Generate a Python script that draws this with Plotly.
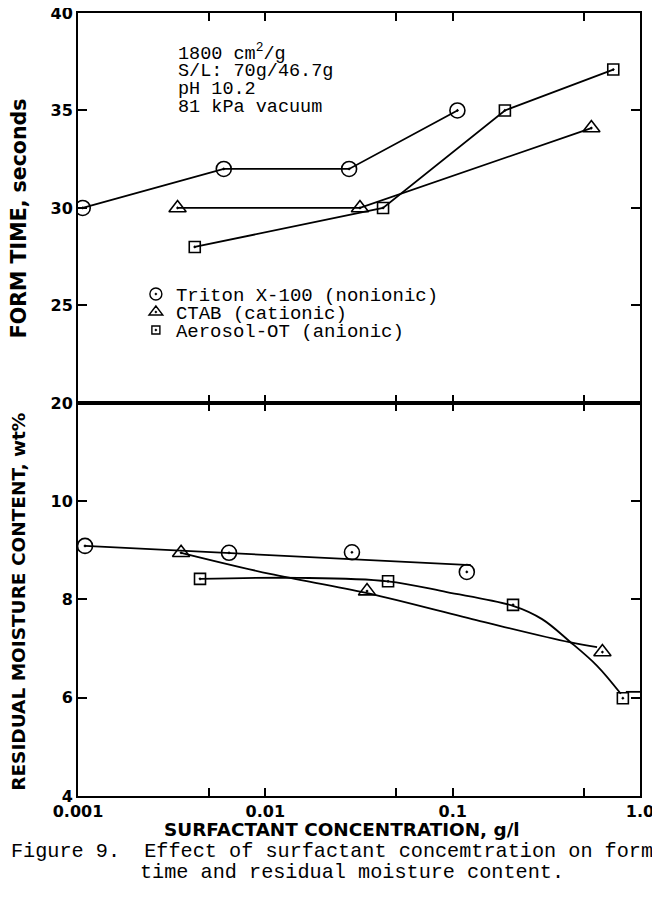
import plotly.graph_objects as go

# ---------------- data ----------------
# Top panel: form time, seconds
triton_x = [0.00106, 0.0060, 0.028, 0.106]
triton_form = [30.0, 32.0, 32.0, 35.0]
ctab_x = [0.0034, 0.032, 0.55]
ctab_form = [30.0, 30.0, 34.1]
aot_x = [0.0042, 0.0425, 0.19, 0.72]
aot_form = [28.0, 30.0, 35.0, 37.1]

# Bottom panel: residual moisture content, wt%
triton_mx = [0.00109, 0.0064, 0.029, 0.119]
triton_moist = [9.09, 8.95, 8.96, 8.56]
ctab_mx = [0.00355, 0.0349, 0.63]
ctab_moist = [8.95, 8.17, 6.93]
aot_mx = [0.00448, 0.0452, 0.21, 0.81]
aot_moist = [8.42, 8.37, 7.89, 5.99]

# Hand-drawn fitted curves in the bottom panel
triton_fit_x = [0.00109, 0.125]
triton_fit_y = [9.09, 8.70]
ctab_fit_x = [0.00355, 0.0106, 0.035, 0.14, 0.42, 0.59]
ctab_fit_y = [8.95, 8.52, 8.13, 7.56, 7.13, 7.03]
aot_fit_x = [0.00448, 0.015, 0.045, 0.093, 0.21, 0.30, 0.42, 0.59, 0.79]
aot_fit_y = [8.42, 8.44, 8.37, 8.15, 7.87, 7.60, 7.15, 6.65, 6.08]
aot_tail_x = [0.84, 1.0]
aot_tail_y = [6.12, 6.12]

legend_names = ["Triton X-100 (nonionic)", "CTAB (cationic)", "Aerosol-OT (anionic)"]
x_tickvals = [0.001, 0.005, 0.01, 0.05, 0.1, 0.5, 1.0]
x_ticktext = ["0.001", " ", "0.01", " ", "0.1", " ", "1.0"]
top_ticks = [20, 25, 30, 35, 40]
bot_ticks = [4, 6, 8, 10]
conditions = ["1800 cm<sup>2</sup>/g", "S/L: 70g/46.7g", "pH 10.2", "81 kPa vacuum"]

# ---------------- styling ----------------
BLACK = "black"
LW = 1.8
MONO = "Liberation Mono"
SANS = "DejaVu Sans"
sym = {"t": "circle-open-dot", "c": "triangle-up-open-dot", "a": "square-open-dot"}
msize = {"t": 15, "c": 15, "a": 11}

fig = go.Figure()

def add(x, y, key, xa, ya, mode="lines+markers", shape="linear"):
    fig.add_trace(go.Scatter(
        x=x, y=y, mode=mode, xaxis=xa, yaxis=ya, showlegend=False,
        line=dict(color=BLACK, width=LW, shape=shape, smoothing=1.0),
        marker=dict(symbol=sym[key], size=msize[key], color=BLACK,
                    line=dict(color=BLACK, width=1.6)),
        hoverinfo="x+y"))

# top panel
add(triton_x, triton_form, "t", "x", "y")
add(ctab_x, ctab_form, "c", "x", "y")
add(aot_x, aot_form, "a", "x", "y")

# bottom panel: fitted curves + points
add(triton_fit_x, triton_fit_y, "t", "x2", "y2", mode="lines")
add(ctab_fit_x, ctab_fit_y, "c", "x2", "y2", mode="lines", shape="spline")
add(aot_fit_x, aot_fit_y, "a", "x2", "y2", mode="lines", shape="spline")
add(aot_tail_x, aot_tail_y, "a", "x2", "y2", mode="lines")
add(triton_mx, triton_moist, "t", "x2", "y2", mode="markers")
add(ctab_mx, ctab_moist, "c", "x2", "y2", mode="markers")
add(aot_mx, aot_moist, "a", "x2", "y2", mode="markers")

# legend entries (markers only), one small legend per entry for tight spacing
legend_ids = ["legend", "legend2", "legend3"]
for key, name, lid in zip(["t", "c", "a"], legend_names, legend_ids):
    fig.add_trace(go.Scatter(
        x=[None], y=[None], mode="markers", name=name, xaxis="x", yaxis="y",
        legend=lid,
        marker=dict(symbol=sym[key], size=msize[key] - 3, color=BLACK,
                    line=dict(color=BLACK, width=1.4))))

axis_common = dict(showline=True, linecolor=BLACK, linewidth=2, mirror="ticks",
                   ticks="inside", tickcolor=BLACK, tickwidth=2, showgrid=False,
                   zeroline=False, automargin=False, ticklabeloverflow="allow")
tickfont = dict(family=SANS, size=16, color=BLACK, weight="bold")
titlefont = dict(family=SANS, color=BLACK, weight="bold")

legend_common = dict(xanchor="left", yanchor="middle", bgcolor="rgba(0,0,0,0)",
                     borderwidth=0, itemwidth=30,
                     font=dict(family=MONO, size=19, color=BLACK))
leg_x = 0.103
leg_y = [0.641, 0.618, 0.595]

# page body adds an 8px offset, so margins are shifted to compensate
fig.update_layout(
    width=660, height=907,
    margin=dict(l=70, r=28, t=5, b=119),
    paper_bgcolor="white", plot_bgcolor="white",
    xaxis=dict(type="log", range=[-3, 0], anchor="y", tickvals=x_tickvals,
               showticklabels=False, ticklen=8, **axis_common),
    xaxis2=dict(type="log", range=[-3, 0], anchor="y2", matches="x",
                tickvals=x_tickvals, ticktext=x_ticktext, ticklen=8,
                tickfont=tickfont, ticklabelstandoff=0,
                **axis_common),
    yaxis=dict(domain=[0.502, 1.0], range=[20, 40], anchor="x", tickvals=top_ticks,
               ticklen=9, tickfont=tickfont, **axis_common),
    yaxis2=dict(domain=[0.0, 0.502], range=[4, 12], anchor="x2", tickvals=bot_ticks,
                ticklen=9, tickfont=tickfont, **axis_common),
    legend=dict(x=leg_x, y=leg_y[0], **legend_common),
    legend2=dict(x=leg_x, y=leg_y[1], **legend_common),
    legend3=dict(x=leg_x, y=leg_y[2], **legend_common),
    showlegend=True,
)

# axis titles
fig.add_annotation(text="FORM TIME, seconds", xref="paper", yref="paper",
                   x=-0.105, y=0.738, textangle=-90, showarrow=False,
                   xanchor="center", yanchor="middle",
                   font=dict(size=20.5, **titlefont))
fig.add_annotation(text="RESIDUAL MOISTURE CONTENT, wt%", xref="paper", yref="paper",
                   x=-0.105, y=0.248, textangle=-90, showarrow=False,
                   xanchor="center", yanchor="middle",
                   font=dict(size=18.5, **titlefont))
fig.add_annotation(text="SURFACTANT CONCENTRATION, g/l", xref="paper", yref="paper",
                   x=0.47, y=-0.0434, showarrow=False,
                   xanchor="center", yanchor="middle",
                   font=dict(size=18.4, **titlefont))

# conditions text block
cond_y = [0.949, 0.925, 0.902, 0.879]
for txt, yy in zip(conditions, cond_y):
    fig.add_annotation(text=txt, xref="paper", yref="paper", x=0.175, y=yy,
                       xanchor="left", yanchor="middle", showarrow=False,
                       font=dict(family=MONO, size=18.5, color=BLACK))

# caption
fig.add_annotation(text="Figure 9.  Effect of surfactant concemtration on form",
                   xref="paper", yref="paper", x=-0.1228, y=-0.0715,
                   xanchor="left", yanchor="middle", showarrow=False,
                   font=dict(family=MONO, size=20.2, color=BLACK))
fig.add_annotation(text="time and residual moisture content.",
                   xref="paper", yref="paper", x=0.106, y=-0.0983,
                   xanchor="left", yanchor="middle", showarrow=False,
                   font=dict(family=MONO, size=20.2, color=BLACK))

fig.write_html("out.html")
